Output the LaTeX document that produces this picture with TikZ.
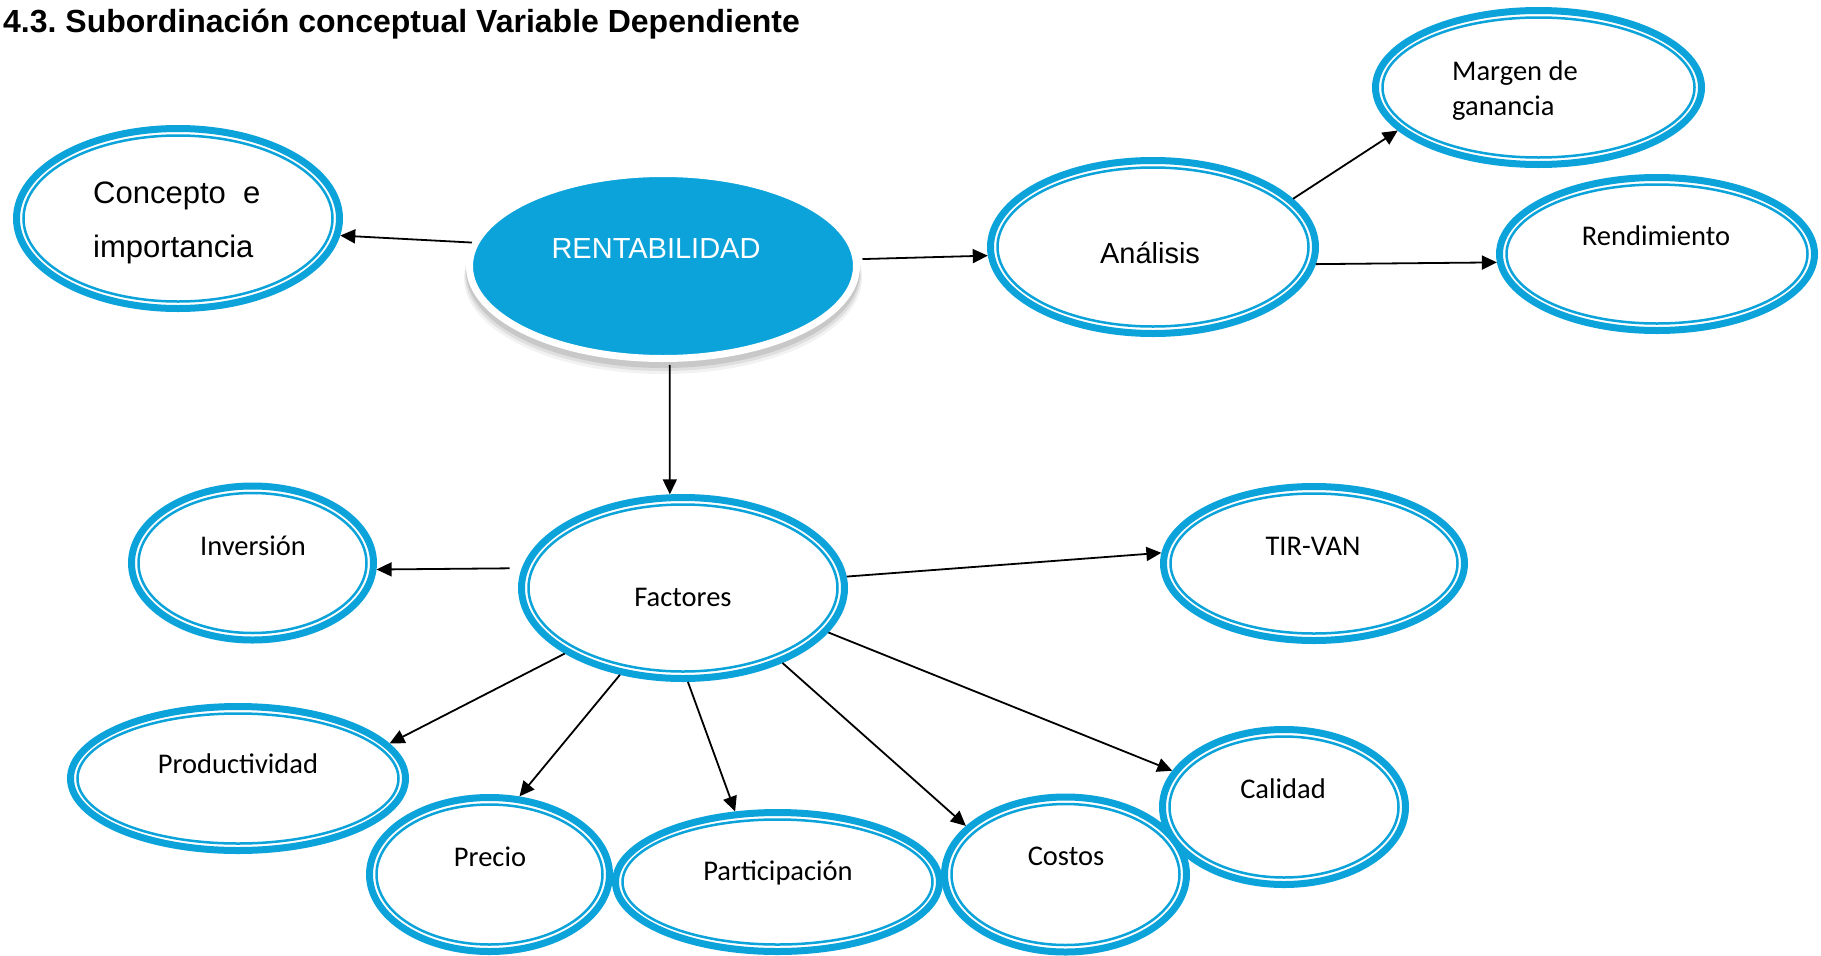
\documentclass[tikz,border=0pt]{standalone}
\usepackage{fontspec}
\setmainfont{Liberation Sans}
\newfontfamily\calibri{Carlito}
\usetikzlibrary{shapes.geometric,arrows.meta}
\definecolor{cblue}{HTML}{0BA3DA}
\frenchspacing
\tikzset{
  dell/.style={ellipse, draw=cblue, line width=7pt, inner sep=0pt, outer sep=3.5pt, fill=white},
  arr/.style={-{Triangle[length=15pt,width=14pt]}, line width=1.8pt, black},
  ctxt/.style={font=\calibri\fontsize{28.5}{35}\selectfont, anchor=base, inner sep=0pt},
  atxt/.style={font=\fontsize{30}{36}\selectfont, anchor=base, inner sep=0pt},
}
\newcommand\dellnode[5]{%
  \node[dell, minimum width={2*#4-7}, minimum height={2*#5-7}] (#1) at (#2,#3) {};
  \draw[cblue, line width=2.5pt] (#2,#3) ellipse [x radius={(#4-10.5)*1pt}, y radius={(#5-10.5)*1pt}];
}
\begin{document}
\begin{tikzpicture}[x=1pt,y=-1pt]
\useasboundingbox (0,0) rectangle (1821,956);
% title
\node[anchor=base west, inner sep=0pt, font=\bfseries\fontsize{32}{38}\selectfont] (title) at (3,32.5) {4.3. Subordinación conceptual Variable Dependiente};
% RENTABILIDAD with soft shadow
\fill[black, opacity=0.05] (663,278) ellipse [x radius=199pt, y radius=96pt];
\fill[black, opacity=0.08] (663,275) ellipse [x radius=198pt, y radius=96pt];
\fill[black, opacity=0.10] (663,272) ellipse [x radius=197pt, y radius=96pt];
\node[ellipse, draw=white, fill=cblue, line width=7pt, inner sep=0pt, outer sep=3.5pt, minimum width=387, minimum height=185] (rent) at (663,266) {};
\node[atxt, text=white, font=\fontsize{29}{35}\selectfont] (rentT) at (656,258) {RENTABILIDAD};
% double ellipses
\dellnode{conc}{178}{218.5}{165}{93.5}
\dellnode{ana}{1153}{247}{166}{90}
\dellnode{marg}{1538.5}{87.5}{166.5}{80.5}
\dellnode{rend}{1657}{254}{161}{80}
\dellnode{fac}{683}{588}{165}{94}
\dellnode{inv}{252.5}{563}{124.5}{80.5}
\dellnode{tir}{1314}{563.5}{154}{80.5}
\dellnode{prod}{238}{778.5}{171}{75.5}
\dellnode{prec}{489.5}{874.5}{123.5}{80.5}
\dellnode{part}{777.5}{882}{165.5}{73}
\dellnode{cost}{1065.5}{874.5}{124.5}{81}
\dellnode{cal}{1284}{807}{125}{81}
% texts
\node[atxt, anchor=base west, font=\fontsize{31}{36}\selectfont] (concA) at (93,203) {Concepto\ \ e};
\node[atxt, anchor=base west, font=\fontsize{31}{36}\selectfont] (concB) at (93,257) {importancia};
\node[atxt, font=\fontsize{29}{35}\selectfont] (anaT) at (1150,263) {Análisis};
\node[ctxt, anchor=base west] (margA) at (1452,80) {Margen de};
\node[ctxt, anchor=base west] (margB) at (1452,115) {ganancia};
\node[ctxt] (rendT) at (1656,245) {Rendimiento};
\node[ctxt] (facT) at (683,606) {Factores};
\node[ctxt] (invT) at (253,555) {Inversión};
\node[ctxt] (tirT) at (1313,555) {TIR-VAN};
\node[ctxt] (prodT) at (238,773) {Productividad};
\node[ctxt] (precT) at (490,866) {Precio};
\node[ctxt] (partT) at (778,880) {Participación};
\node[ctxt] (costT) at (1066,865) {Costos};
\node[ctxt] (calT) at (1283,798) {Calidad};
% connectors
\draw[arr] (rent.173) -- (conc.354);
\draw[arr, shorten <=3pt] (rent.2.6) -- (ana.183.4);
\draw[arr] (ana.19.3) -- (marg.197);
\draw[arr] (ana.354.7) -- (rend.183);
\draw[arr, shorten <=3pt] (rent.274) -- (fac.98.3);
\draw[arr, shorten <=12pt] (fac.173.8) -- (inv.357.1);
\draw[arr] (fac.4.2) -- (tir.176.7);
\draw[arr] (fac.209.4) -- (prod.13.1);
\draw[arr] (fac.234.9) -- (prec.69.4);
\draw[arr] (fac.273.5) -- (part.121);
\draw[arr] (fac.323) -- (cost.154.2);
\draw[arr] (fac.343.6) -- (cal.162.8);
\end{tikzpicture}
\end{document}
